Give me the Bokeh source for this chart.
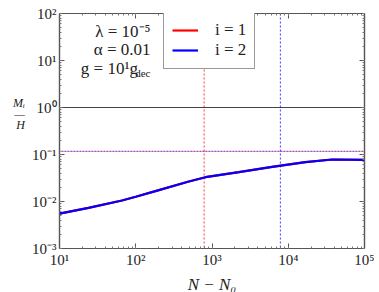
from bokeh.plotting import figure
from bokeh.models import (LogAxis, Label, Legend, LegendItem, Span,
                          CustomJSTickFormatter, LogTicker)
from bokeh.embed import file_html
from bokeh.resources import INLINE

# ---- data ----
N = [10, 24, 66, 100, 181, 497, 822, 2250, 6150, 16800, 37700, 100000]
MH_i1 = [0.0055, 0.0073, 0.0105, 0.0126, 0.0166, 0.0267, 0.0329, 0.042,
         0.0547, 0.0686, 0.0783, 0.077]
MH_i2 = [0.0055, 0.0073, 0.0105, 0.0126, 0.0166, 0.0267, 0.0329, 0.042,
         0.0547, 0.0686, 0.0783, 0.077]
N_dec = [790, 7900]
M_dec = [0.116, 0.116]
series_labels = ["i = 1", "i = 2"]
colors = ["red", "blue"]
ref_level = [1.0]

FONT = "Liberation Serif"
TXT = "#222222"

p = figure(x_axis_type="log", y_axis_type="log", x_range=(10, 1e5),
           y_range=(1e-3, 1e2), output_backend="svg", toolbar_location=None,
           frame_width=305, frame_height=235,
           min_border_left=59, min_border_top=13, min_border_right=10,
           min_border_bottom=40)
p.background_fill_color = "white"
p.border_fill_color = "white"
p.outline_line_color = "#333333"
p.outline_line_width = 1.2
p.xgrid.visible = False
p.ygrid.visible = False

fmt_code = """
const e = Math.round(Math.log10(tick));
const m = {'-':'\u207b','0':'\u2070','1':'\u00b9','2':'\u00b2','3':'\u00b3','4':'\u2074','5':'\u2075','6':'\u2076','7':'\u2077','8':'\u2078','9':'\u2079'};
return '10' + String(e).split('').map(c => m[c]).join('');
"""

def style_axis(ax, labels=True):
    ax.ticker = LogTicker(num_minor_ticks=10)
    ax.major_tick_in = 5
    ax.major_tick_out = 0
    ax.minor_tick_in = 2
    ax.minor_tick_out = 0
    ax.axis_line_color = "#555555"
    ax.axis_line_width = 1.2
    ax.major_tick_line_color = "#555555"
    ax.minor_tick_line_color = "#777777"
    if labels:
        ax.formatter = CustomJSTickFormatter(code=fmt_code)
        ax.major_label_text_font = FONT
        ax.major_label_text_font_size = "15px"
        ax.major_label_text_color = TXT
        ax.major_label_standoff = 3
    else:
        ax.major_label_text_alpha = 0
        ax.major_label_text_font_size = "1px"
        ax.major_label_standoff = 0

style_axis(p.xaxis[0])
style_axis(p.yaxis[0])
p.xaxis[0].axis_label = "N \u2212 N\u2080"
p.xaxis[0].axis_label_text_font = FONT
p.xaxis[0].axis_label_text_font_style = "italic"
p.xaxis[0].axis_label_text_font_size = "17px"
p.xaxis[0].axis_label_text_color = TXT
p.xaxis[0].axis_label_standoff = 4

p.yaxis[0].axis_label = "M\u1d62\n\u2014\nH\n \n \n "
p.yaxis[0].axis_label_orientation = "horizontal"
p.yaxis[0].axis_label_text_font = FONT
p.yaxis[0].axis_label_text_font_style = "italic"
p.yaxis[0].axis_label_text_font_size = "12px"
p.yaxis[0].axis_label_text_line_height = 0.8
p.yaxis[0].axis_label_text_color = TXT
p.yaxis[0].axis_label_standoff = 4

ax_r = LogAxis()
style_axis(ax_r, labels=False)
p.add_layout(ax_r, "right")
ax_t = LogAxis()
style_axis(ax_t, labels=False)
p.add_layout(ax_t, "above")

# reference line at 1
p.add_layout(Span(location=ref_level[0], dimension="width", line_color="#444444",
                  line_width=1.2, level="underlay"))

# dotted markers
for i in range(2):
    p.add_layout(Span(location=N_dec[i], dimension="height", line_color=colors[i],
                      line_width=1.2, line_alpha=0.65, line_dash="2 2",
                      level="underlay"))
p.add_layout(Span(location=M_dec[0], dimension="width", line_color=colors[0],
                  line_width=1.3, line_alpha=0.8, line_dash="1 2",
                  level="underlay"))
p.add_layout(Span(location=M_dec[1], dimension="width", line_color=colors[1],
                  line_width=1.3, line_alpha=0.8, line_dash="1 2",
                  line_dash_offset=1, level="underlay"))

r1 = p.line(N, MH_i1, line_color=colors[0], line_width=2.2)
r2 = p.line(N, MH_i2, line_color=colors[1], line_width=2.2)

legend = Legend(items=[LegendItem(label=series_labels[0], renderers=[r1]),
                       LegendItem(label=series_labels[1], renderers=[r2])],
                location=(104, 179), padding=8, margin=0, spacing=0,
                glyph_width=26, glyph_height=16, label_height=16,
                label_standoff=17, label_text_font=FONT,
                label_text_font_size="17px", label_text_color=TXT,
                border_line_color="#333333", border_line_width=1.3,
                background_fill_color="white", background_fill_alpha=1.0)
p.add_layout(legend)

def lab(x, y, text, size="17px", align="right", style="normal"):
    p.add_layout(Label(x=x, y=y, text=text, text_align=align,
                       text_baseline="middle", text_font=FONT,
                       text_font_size=size, text_color=TXT,
                       text_font_style=style))

lab(156, 41.4, "\u03bb = 10\u207b\u2075")
lab(156, 17.1, "\u03b1 = 0.01")
lab(107, 6.76, "g = 10\u00b9g")
lab(156, 5.29, "dec", size="11px")

open("out.html", "w").write(file_html(p, INLINE))
